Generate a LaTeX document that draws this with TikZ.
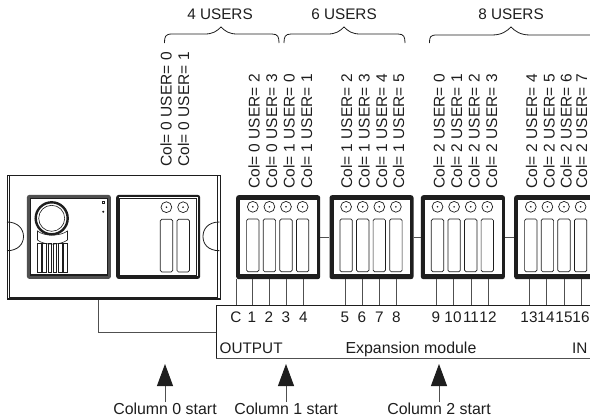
\documentclass[tikz,border=0pt]{standalone}
\usepackage{fontspec}
\setmainfont{Liberation Sans}
\usetikzlibrary{arrows.meta}
\definecolor{ink}{HTML}{1E1E1E}
\definecolor{wire}{HTML}{505050}
\tikzset{
  lab/.style={font=\fontsize{15.3}{16}\selectfont,text=ink,inner sep=0pt,anchor=base},
  widelab/.style={font=\fontsize{15.9}{17}\selectfont,text=ink,inner sep=0pt,anchor=base},
  vlab/.style={font=\fontsize{15.5}{16}\selectfont,text=ink,inner sep=0pt,rotate=90,anchor=base west},
  wireline/.style={draw=wire,line width=0.8pt},
  busline/.style={draw=ink,line width=0.7pt},
  bracepath/.style={draw=ink,line width=0.8pt},
  slotbox/.style={draw=ink,line width=0.7pt,rounded corners=1.5pt,fill=white},
  ledring/.style={draw=ink,line width=0.7pt,fill=white},
  startarrow/.style={draw=wire,line width=0.9pt,-{Triangle[length=22pt,width=16pt,color=ink]}},
}
% module at x = #1, name #2
\newcommand{\expmod}[2]{%
  \node[minimum width=84pt,minimum height=84pt,inner sep=0pt,anchor=north west,fill=ink,rounded corners=2.5pt,draw=none] (#2) at (#1,195) {};
  \fill[white] (#1+4.2,200) rectangle (#1+80.8,274.2);
  \foreach \k in {0,1,2,3}{
    \path[slotbox] (#1+10.6+\k*16.6,219) rectangle (#1+23+\k*16.6,271.7);
    \path[ledring] (#1+16.8+\k*16.6,206.8) circle (5.4);
    \fill[ink] (#1+16.8+\k*16.6,206.8) circle (0.9);
  }
}
\begin{document}
\begin{tikzpicture}[x=1pt,y=-1pt]
\useasboundingbox (0,0) rectangle (590,418);
\fill[white] (0,0) rectangle (590,418);

\begin{scope}
\clip (0,0) rectangle (590,418);
% panel
\node[draw=ink,line width=1.1pt,fill=white,inner sep=0pt,minimum width=212.5pt,minimum height=124pt,anchor=north west] (panel) at (7,175) {};
\draw[ink,line width=0.6pt] (9,175) -- (9,297.6) -- (217.5,297.6) -- (217.5,175);
\draw[ink,line width=1.4pt] (7,298.6) -- (219.5,298.6);
\draw[ink,line width=0.8pt] (7,222) .. controls (18,222) and (23.5,229) .. (23.5,236.5) .. controls (23.5,244) and (18,250.7) .. (7,250.7);
\draw[ink,line width=0.8pt] (219.5,222) .. controls (208,222) and (203,229) .. (203,236.5) .. controls (203,244) and (208,250.7) .. (219.5,250.7);

% door station module
\node[minimum width=84pt,minimum height=84pt,inner sep=0pt,anchor=north west,fill=wire,rounded corners=2.5pt] (cam) at (26.7,194.7) {};
\fill[white] (29.5,197.5) rectangle (108,276);
\draw[ink,line width=0.7pt] (30.5,198.5) rectangle (107,275);
\draw[ink,line width=1.6pt] (30.5,275.2) -- (107,275.2);
\draw[ink,line width=2.4pt] (51.7,218.3) circle (16);
\draw[ink,line width=0.6pt] (51.7,218.3) circle (13);
\draw[ink,line width=0.6pt] (37.5,231) .. controls (44,236.5) and (60,236.5) .. (67.5,231) -- (67.5,240) .. controls (60,245.5) and (44,245.5) .. (37.5,240) -- cycle;
\foreach \k in {0,...,5}{
  \draw[ink,line width=0.55pt] (37.6+\k*5.15,243.5) rectangle (41.2+\k*5.15,272);
}
\draw[ink,line width=0.8pt] (102.2,201.2) rectangle (104.6,203.6);
\fill[ink] (103.3,211.7) circle (1.1);

% second panel module
\node[minimum width=84pt,minimum height=84pt,inner sep=0pt,anchor=north west,fill=ink,rounded corners=2.5pt] (blank) at (116,194.7) {};
\fill[white] (118.5,197) rectangle (197.5,276.2);
\draw[ink,line width=0.7pt] (119.5,198) rectangle (196.5,275.2);
\foreach \x in {160.3,177}{
  \path[slotbox] (\x,219.3) rectangle (\x+12.4,272);
  \path[ledring] (\x+6.1,207.2) circle (5.4);
  \fill[ink] (\x+6.1,207.2) circle (0.9);
}

% expansion modules
\expmod{236}{m1}
\expmod{329.3}{m2}
\expmod{420.7}{m3}
\expmod{514}{m4}
\draw[wireline] (m1.east|-0,237) -- (m2.west|-0,237);
\draw[wireline] (m2.east|-0,237) -- (m3.west|-0,237);
\draw[wireline] (m3.east|-0,237) -- (m4.west|-0,237);

% terminal strip
\coordinate (busL) at (216,305);
\coordinate (busR) at (590,305);
\coordinate (busB) at (216,358.5);
\coordinate (busBR) at (590,358.5);
\draw[busline] (busB) -- (busL) -- (busR);
\draw[busline,draw=wire,line width=0.9pt] (busB) -- (busBR);
\draw[wireline] (panel.south-|98,0) -- (98,332) -- (216,332);
\foreach \x/\m in {236/m1,252/m1,269/m1,286/m1,303.5/m1,
  345/m2,362/m2,379.5/m2,396.5/m2,
  436/m3,453/m3,471/m3,488/m3,
  529/m4,546/m4,564/m4,581/m4}{
  \draw[wireline] (\m.south-|\x,0) -- (\x,305);
}
% braces
\draw[bracepath] (164.5,43) .. controls (164.5,37) and (165,34) .. (172,34) -- (205,34) .. controls (213,34) and (217,31) .. (221,27) .. controls (225,31) and (229,34) .. (237,34) -- (272,34) .. controls (278,34) and (279,37) .. (279,43);
\draw[bracepath] (284,43) .. controls (284,37) and (285,34) .. (291,34) -- (328,34) .. controls (336,34) and (340,31) .. (344,27) .. controls (348,31) and (352,34) .. (360,34) -- (398,34) .. controls (404,34) and (405,37) .. (405,43);
\draw[bracepath] (429.5,43) .. controls (429.5,37) and (430,35) .. (437,35) -- (492,35) .. controls (502,35) and (507,31) .. (511,27) .. controls (515,31) and (520,35) .. (530,35) -- (590,35);
\end{scope}

\foreach \x/\t/\n in {236/C/tC,252/1/t1,269/2/t2,286/3/t3,303.5/4/t4,
  345/5/t5,362/6/t6,379.5/7/t7,396.5/8/t8,
  436/9/t9,453/10/t10,471/11/t11,488/12/t12,
  529/13/t13,546/14/t14,564/15/t15,581/16/t16}{
  \node[lab] (\n) at (\x,322.5) {\t};
}
\node[lab,anchor=base west] (out) at (219.5,353.5) {OUTPUT};
\node[widelab] (exp) at (411,353.5) {Expansion module};
\node[lab,anchor=base east] (inp) at (587.5,353.5) {IN};

% rotated labels
\foreach \x/\t/\n in {171.5/Col= 0 USER= 0/a1,189/Col= 0 USER= 1/a2}{
  \node[vlab] (\n) at (\x,167) {\t};
}
\foreach \x/\t/\n in {259.5/Col= 0 USER= 2/b1,277/Col= 0 USER= 3/b2,294.5/Col= 1 USER= 0/b3,312/Col= 1 USER= 1/b4,
  352/Col= 1 USER= 2/b5,369.5/Col= 1 USER= 3/b6,387/Col= 1 USER= 4/b7,404/Col= 1 USER= 5/b8,
  444.5/Col= 2 USER= 0/b9,462/Col= 2 USER= 1/b10,479.5/Col= 2 USER= 2/b11,497/Col= 2 USER= 3/b12,
  537/Col= 2 USER= 4/b13,554.5/Col= 2 USER= 5/b14,571.5/Col= 2 USER= 6/b15,587/Col= 2 USER= 7/b16}{
  \node[vlab] (\n) at (\x,189) {\t};
}

\node[lab] (u4) at (220,19.5) {4 USERS};
\node[lab] (u6) at (344,19.5) {6 USERS};
\node[lab] (u8) at (511,19.5) {8 USERS};

% start arrows
\node[widelab] (c0) at (165,414) {Column 0 start};
\node[widelab] (c1) at (286,414) {Column 1 start};
\node[widelab] (c2) at (439,414) {Column 2 start};
\coordinate (a0) at (165,364);
\coordinate (a1t) at (286,364);
\coordinate (a2t) at (439,364);
\draw[startarrow] (c0.north|-0,402) -- (a0);
\draw[startarrow] (c1.north|-0,402) -- (a1t);
\draw[startarrow] (c2.north|-0,402) -- (a2t);
\end{tikzpicture}
\end{document}
